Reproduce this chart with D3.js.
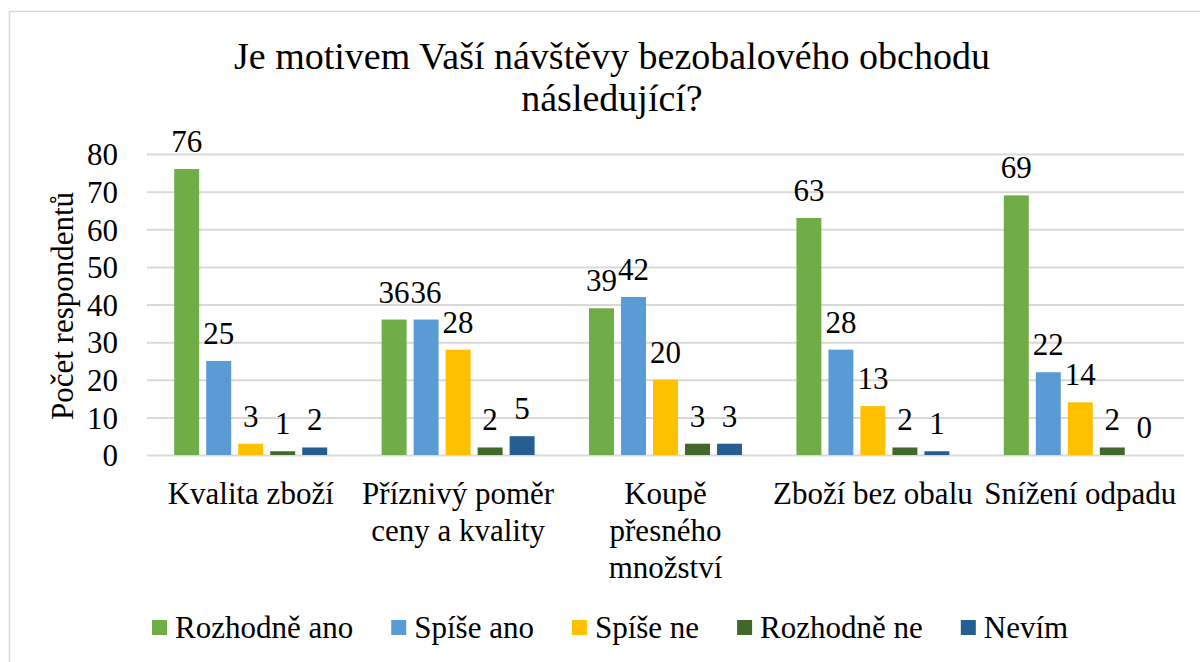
<!DOCTYPE html>
<html>
<head>
<meta charset="utf-8">
<script src="https://cdn.jsdelivr.net/npm/d3@7"></script>
</head>
<body style="margin:0">
<svg id="chart" width="1200" height="662" font-family="Liberation Serif"></svg>
<script>
// data
var categories = ['Kvalita zboží', 'Příznivý poměr ceny a kvality', 'Koupě přesného množství', 'Zboží bez obalu', 'Snížení odpadu'];
// how the category labels wrap
var categoryLines = [
    ['Kvalita zboží'],
    ['Příznivý poměr', 'ceny a kvality'],
    ['Koupě', 'přesného', 'množství'],
    ['Zboží bez obalu'],
    ['Snížení odpadu']
];
var seriesNames = ['Rozhodně ano', 'Spíše ano', 'Spíše ne', 'Rozhodně ne', 'Nevím'];
var rozhodneAno = [76, 36, 39, 63, 69];
var spiseAno = [25, 36, 42, 28, 22];
var spiseNe = [3, 28, 20, 13, 14];
var rozhodneNe = [1, 2, 3, 2, 2];
var nevim = [2, 5, 3, 1, 0];
var yTicks = [0, 10, 20, 30, 40, 50, 60, 70, 80];

var seriesValues = [rozhodneAno, spiseAno, spiseNe, rozhodneNe, nevim];
var colors = ['#70ad47', '#5b9bd5', '#ffc000', '#43682b', '#255e91'];
var FONT = "'Liberation Serif'";

function label(sel, size) {
    return sel.attr('font-family', 'Liberation Serif')
        .style('font-family', FONT)
        .attr('font-size', size)
        .attr('fill', '#000');
}

function draw() {
    var svg = d3.select('#chart');
    svg.selectAll('*').remove();

    // chart frame
    svg.append('rect')
        .attr('x', 9.5).attr('y', 11.5)
        .attr('width', 1200).attr('height', 700)
        .attr('fill', 'none')
        .attr('stroke', '#d9d9d9')
        .attr('stroke-width', 1.5);

    var plot = { left: 147, right: 1184, top: 154, bottom: 455 };

    var x0 = d3.scaleBand()
        .domain(categories)
        .range([plot.left, plot.right])
        .padding(0);

    var x1 = d3.scaleBand()
        .domain(seriesNames)
        .range([0, x0.bandwidth()])
        .paddingInner(0.22)
        .paddingOuter(0.85);

    var y = d3.scaleLinear()
        .domain([0, 80])
        .range([plot.bottom, plot.top]);

    // title
    var title = label(svg.append('text'), 38).attr('text-anchor', 'middle');
    title.append('tspan').attr('x', 612).attr('y', 69).text('Je motivem Vaší návštěvy bezobalového obchodu');
    title.append('tspan').attr('x', 612).attr('y', 111).text('následující?');

    // gridlines + y labels
    var yAxis = d3.axisLeft(y)
        .tickValues(yTicks)
        .tickSize(-(plot.right - plot.left))
        .tickPadding(29)
        .tickFormat(d3.format('d'));

    var yg = svg.append('g')
        .attr('transform', 'translate(' + plot.left + ',0)')
        .call(yAxis)
        .attr('font-family', null)
        .attr('font-size', null);
    yg.select('.domain').remove();
    yg.selectAll('.tick line')
        .attr('stroke', '#d9d9d9')
        .attr('stroke-width', 2);
    label(yg.selectAll('.tick text'), 31)
        .attr('dy', '0.35em');

    // axis title
    label(svg.append('text'), 31)
        .attr('transform', 'translate(73,306) rotate(-90)')
        .attr('text-anchor', 'middle')
        .text('Počet respondentů');

    // bars
    var groups = svg.selectAll('g.cat')
        .data(categories)
        .enter().append('g')
        .attr('class', 'cat')
        .attr('transform', function(d) { return 'translate(' + x0(d) + ',0)'; });

    groups.selectAll('rect')
        .data(function(d, i) {
            return seriesNames.map(function(s, j) { return { s: s, v: seriesValues[j][i], c: colors[j] }; });
        })
        .enter().append('rect')
        .attr('x', function(d) { return x1(d.s); })
        .attr('y', function(d) { return y(d.v); })
        .attr('width', x1.bandwidth())
        .attr('height', function(d) { return y(0) - y(d.v); })
        .attr('fill', function(d) { return d.c; });

    label(groups.selectAll('text.lbl')
        .data(function(d, i) {
            return seriesNames.map(function(s, j) { return { s: s, v: seriesValues[j][i] }; });
        })
        .enter().append('text'), 31)
        .attr('class', 'lbl')
        .attr('text-anchor', 'middle')
        .attr('x', function(d) { return x1(d.s) + x1.bandwidth() / 2; })
        .attr('y', function(d) { return y(d.v) - 17; })
        .text(function(d) { return d.v; });

    // category labels
    categories.forEach(function(c, i) {
        var t = label(svg.append('text'), 31).attr('text-anchor', 'middle');
        categoryLines[i].forEach(function(line, k) {
            t.append('tspan')
                .attr('x', x0(c) + x0.bandwidth() / 2)
                .attr('y', 504 + k * 37)
                .text(line);
        });
    });

    // legend
    var legend = svg.append('g');
    var lx = 152;
    seriesNames.forEach(function(s, i) {
        legend.append('rect')
            .attr('x', lx).attr('y', 620)
            .attr('width', 15).attr('height', 15)
            .attr('fill', colors[i]);
        var t = label(legend.append('text'), 31)
            .attr('x', lx + 23)
            .attr('y', 638)
            .text(s);
        lx += 23 + t.node().getComputedTextLength() + 38;
    });
}

draw();
// redraw once the local serif face is really loaded
if (document.fonts && document.fonts.load) {
    document.fonts.load("31px 'Liberation Serif'", 'Kvalita zboží').then(draw);
}
</script>
</body>
</html>
